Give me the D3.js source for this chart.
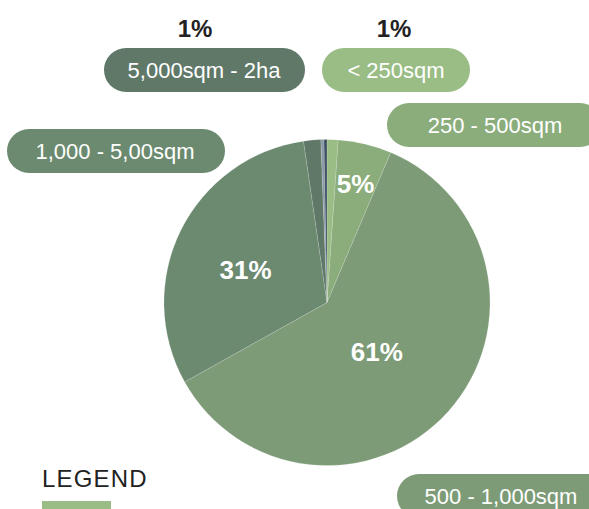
<!DOCTYPE html>
<html>
<head>
<meta charset="utf-8">
<script src="https://cdn.jsdelivr.net/npm/d3@7"></script>
<style>
  html, body { margin: 0; padding: 0; background: #fff; overflow: hidden; }
  svg { display: block; font-family: "Liberation Sans", Arial, Helvetica, sans-serif; }
</style>
</head>
<body>
<div id="chart"></div>
<script>
// ************** lot size pie    *****************
var width = 589, height = 509;

// slices, clockwise from 12 o'clock
var categories = ["< 250sqm", "250 - 500sqm", "500 - 1,000sqm", "1,000 - 5,00sqm", "5,000sqm - 2ha", "2 - 5ha", "> 5ha"];
var shares     = [1.1, 5.3, 60.5, 30.8, 1.7, 0.3, 0.3];
var sliceLabels = ["", "5%", "61%", "31%", "", "", ""];
var colors     = ["#9abd85", "#8aad7b", "#7d9b77", "#6b8a70", "#5f7868", "#8898a4", "#3e5264"];

// callout pills
var pillNames  = ["5,000sqm - 2ha", "< 250sqm", "250 - 500sqm", "1,000 - 5,00sqm", "500 - 1,000sqm"];
var pillTop    = ["1%", "1%", "", "", ""];

var svg = d3.select("#chart").append("svg")
    .attr("width", width)
    .attr("height", height);

var cx = 327, cy = 302.5, radius = 163;

var pie = d3.pie().sort(null).value(function(d) { return d; });
var arc = d3.arc().innerRadius(0).outerRadius(radius);
var arcs = pie(shares);

var g = svg.append("g").attr("transform", "translate(" + cx + "," + cy + ")");

g.selectAll("path")
    .data(arcs)
  .enter().append("path")
    .attr("d", arc)
    .attr("fill", function(d, i) { return colors[i]; })
    .attr("stroke", "rgba(255,255,255,0.25)")
    .attr("stroke-width", 0.6);

// label distance from centre (fraction of radius) and angle nudge per slice
var labelR = [0.75, 0.75, 0.43, 0.54, 0.75, 0.75, 0.75];
var labelNudge = [0, 0, 0.05, -0.07, 0, 0, 0];
g.selectAll("text.pct")
    .data(arcs)
  .enter().append("text")
    .attr("class", "pct")
    .attr("transform", function(d, i) {
        var a = (d.startAngle + d.endAngle) / 2 + labelNudge[i], r = radius * labelR[i];
        return "translate(" + (Math.sin(a) * r) + "," + (-Math.cos(a) * r) + ")";
    })
    .attr("text-anchor", "middle")
    .attr("dy", "0.36em")
    .attr("fill", "#fff")
    .style("font-size", "26px")
    .style("font-weight", "bold")
    .text(function(d, i) { return sliceLabels[i]; });

// pill boxes: x, y, w, text centre (relative), top label x
var pillBox = [
  {x: 104, y: 48,  w: 201, cx: 100, tx: 195},
  {x: 322, y: 48,  w: 148, cx: 74,  tx: 394},
  {x: 387, y: 103, w: 215, cx: 108, tx: 0},
  {x: 7,   y: 129, w: 218, cx: 108, tx: 0},
  {x: 397, y: 474, w: 215, cx: 104, tx: 0}
];
var pillColor = function(name) { return colors[categories.indexOf(name)]; };

var pills = svg.selectAll("g.pill")
    .data(pillNames)
  .enter().append("g")
    .attr("class", "pill")
    .attr("transform", function(d, i) { return "translate(" + pillBox[i].x + "," + pillBox[i].y + ")"; });

pills.append("rect")
    .attr("width", function(d, i) { return pillBox[i].w; })
    .attr("height", 44)
    .attr("rx", 22)
    .attr("fill", pillColor);

pills.append("text")
    .attr("x", function(d, i) { return pillBox[i].cx; })
    .attr("y", 22)
    .attr("dy", "0.35em")
    .attr("text-anchor", "middle")
    .attr("fill", "#fff")
    .style("font-size", "22px")
    .text(function(d) { return d; });

svg.selectAll("text.top")
    .data(pillTop)
  .enter().append("text")
    .attr("class", "top")
    .attr("x", function(d, i) { return pillBox[i].tx; })
    .attr("y", 37)
    .attr("text-anchor", "middle")
    .attr("fill", "#222")
    .style("font-size", "24px")
    .style("font-weight", "bold")
    .text(function(d) { return d; });

// legend heading
svg.append("text")
    .attr("x", 42)
    .attr("y", 487)
    .attr("fill", "#222")
    .style("font-size", "24px")
    .style("letter-spacing", "1.2px")
    .text("LEGEND");

svg.append("rect")
    .attr("x", 42)
    .attr("y", 501)
    .attr("width", 69)
    .attr("height", 10)
    .attr("fill", colors[0]);
</script>
</body>
</html>
